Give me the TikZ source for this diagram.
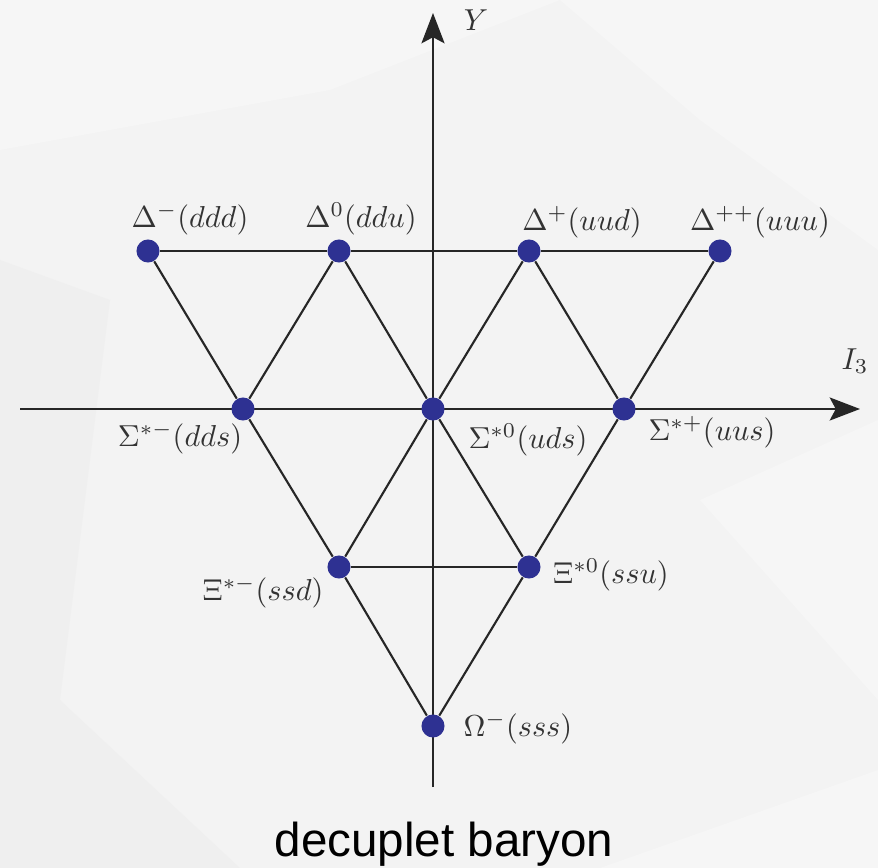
\documentclass[tikz,border=0pt]{standalone}
\usepackage{fontspec}
\usepackage{tikz}
\usetikzlibrary{arrows.meta,positioning}
\newfontfamily\captionsans{Liberation Sans}
\definecolor{dotblue}{HTML}{2E3192}
\definecolor{paper}{HTML}{F3F3F3}
\definecolor{paperlight}{HTML}{F6F6F6}
\definecolor{paperdark}{HTML}{EFEFEF}

\begin{document}
\begin{tikzpicture}[x=0.33pt,y=-0.33pt,
 pt/.style={circle,fill=dotblue,inner sep=0pt,minimum size=7.6pt},
 edge/.style={line width=0.7pt,draw=black!85},
 axis/.style={line width=0.8pt,draw=black!85,-{Stealth[length=10pt,width=7.6pt,inset=2pt]}},
 lbl/.style={text=black!80,inner sep=0pt}]
\fill[paper] (0,0) rectangle (878,868);
\fill[paperlight] (0,0) -- (560,0) -- (330,90) -- (0,150) -- cycle;
\fill[paperlight] (560,0) -- (878,0) -- (878,250) -- (700,120) -- cycle;
\fill[paperdark] (0,260) -- (110,300) -- (60,700) -- (0,720) -- cycle;
\fill[paperdark] (0,720) -- (60,700) -- (240,868) -- (0,868) -- cycle;
\fill[paperlight] (600,868) -- (878,770) -- (878,868) -- cycle;
\fill[paperlight] (700,500) -- (878,420) -- (878,700) -- cycle;
\coordinate (ybot) at (433,787);
\coordinate (ytop) at (433,13);
\coordinate (xleft) at (20,409);
\coordinate (xright) at (860,409);
\draw[axis] (ybot) -- (ytop);
\draw[axis] (xleft) -- (xright);
\node[lbl] (ylab) at (476,20) {$Y$};
\node[lbl] (ilab) at (855,361) {$I_3$};
\node[pt] (dm) at (148,251) {};
\node[pt] (dz) at (339,251) {};
\node[pt] (dp) at (529,251) {};
\node[pt] (dpp) at (720,251) {};
\node[pt] (sm) at (243,409) {};
\node[pt] (sz) at (433,409) {};
\node[pt] (sp) at (624,409) {};
\node[pt] (xm) at (339,567) {};
\node[pt] (xz) at (529,567) {};
\node[pt] (om) at (433,726) {};
\draw[edge] (dm)--(dz) (dz)--(dp) (dp)--(dpp);
\draw[edge] (xm)--(xz);
\draw[edge] (dm)--(sm) (sm)--(xm) (xm)--(om);
\draw[edge] (dpp)--(sp) (sp)--(xz) (xz)--(om);
\draw[edge] (dz)--(sm) (dp)--(sp);
\draw[edge] (dz)--(sz) (sz)--(xz);
\draw[edge] (dp)--(sz) (sz)--(xm);
\node[lbl] (ldm) at (190,219) {$\Delta^{-}(ddd)$};
\node[lbl] (ldz) at (361,219) {$\Delta^{0}(ddu)$};
\node[lbl] (ldp) at (582,222) {$\Delta^{+}(uud)$};
\node[lbl] (ldpp) at (760,222) {$\Delta^{++}(uuu)$};
\node[lbl] (lsm) at (180,438) {$\Sigma^{*-}(dds)$};
\node[lbl] (lsz) at (528,440) {$\Sigma^{*0}(uds)$};
\node[lbl] (lsp) at (712,432) {$\Sigma^{*+}(uus)$};
\node[lbl] (lxm) at (263,592) {$\Xi^{*-}(ssd)$};
\node[lbl] (lxz) at (611,575) {$\Xi^{*0}(ssu)$};
\node[lbl] (lom) at (518,728) {$\Omega^{-}(sss)$};
\node[anchor=base,inner sep=0pt] (title) at (444,856) {\captionsans\fontsize{15.7}{18}\selectfont decuplet baryon};
\end{tikzpicture}
\end{document}
